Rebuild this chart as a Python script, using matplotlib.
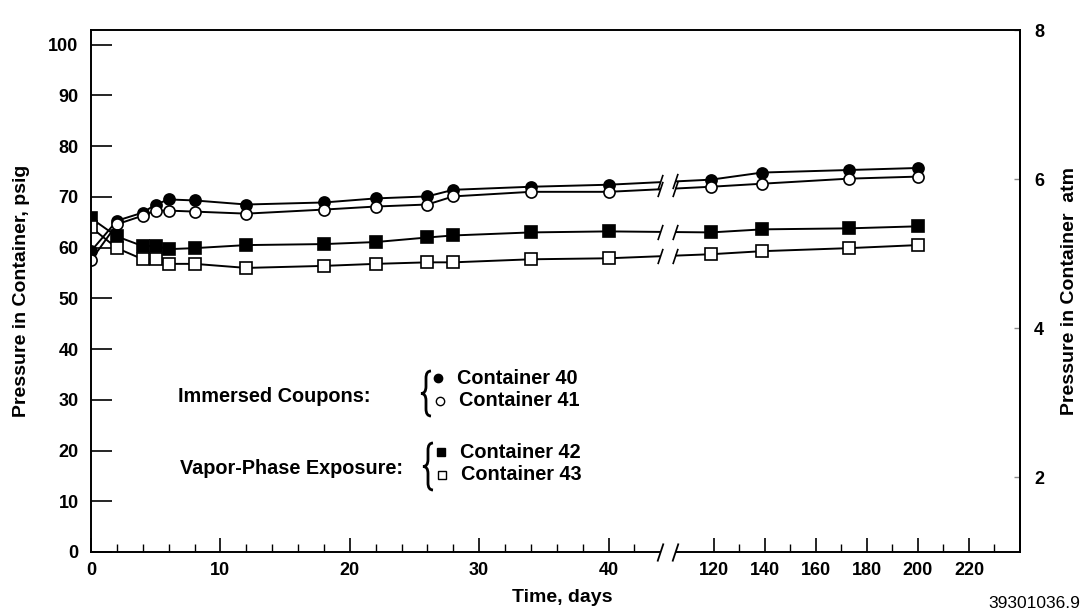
import numpy as np
import matplotlib
matplotlib.use("Agg")
import matplotlib.pyplot as plt
from matplotlib.lines import Line2D
from matplotlib.path import Path
from matplotlib.patches import PathPatch
from matplotlib.ticker import FixedLocator, FixedFormatter

plt.rcParams['font.family'] = ['Liberation Sans', 'DejaVu Sans']

# ---------------- data ----------------
days = [0, 2, 4, 5, 6, 8, 12, 18, 22, 26, 28, 34, 40, 119, 139, 173, 200]
c40 = [59.3, 65.3, 66.9, 68.5, 69.5, 69.3, 68.5, 68.9, 69.7, 70.1, 71.4, 72.0, 72.4, 73.4, 74.8, 75.3, 75.7]
c41 = [57.5, 64.6, 66.3, 67.3, 67.3, 67.1, 66.7, 67.5, 68.1, 68.5, 70.1, 71.0, 71.0, 72.0, 72.6, 73.6, 74.0]
c42 = [65.8, 62.2, 60.3, 60.3, 59.7, 59.9, 60.5, 60.7, 61.1, 62.0, 62.4, 63.0, 63.2, 63.0, 63.6, 63.8, 64.2]
c43 = [64.0, 59.9, 57.7, 57.7, 56.8, 56.8, 56.0, 56.4, 56.8, 57.1, 57.1, 57.7, 57.9, 58.7, 59.3, 59.9, 60.5]

x_major = [0, 10, 20, 30, 40, 120, 140, 160, 180, 200, 220]
x_major_labels = ['0', '10', '20', '30', '40', '120', '140', '160', '180', '200', '220']
x_minor = [2, 4, 6, 8, 12, 14, 16, 18, 22, 24, 26, 28, 32, 34, 36, 38, 42,
           130, 150, 170, 190, 210, 230]
y_left_ticks = [0, 10, 20, 30, 40, 50, 60, 70, 80, 90, 100]
y_right_ticks = [2, 4, 6, 8]

# ---------------- broken x scale ----------------
B1, B2, G, R = 44.0, 105.0, 1.16, 0.1973


def fwd(d):
    d = np.asarray(d, dtype=float)
    return np.where(d <= B1, d,
                    np.where(d >= B2, B1 + G + (d - B2) * R,
                             B1 + (d - B1) * G / (B2 - B1)))


def inv(t):
    t = np.asarray(t, dtype=float)
    return np.where(t <= B1, t,
                    np.where(t >= B1 + G, B2 + (t - B1 - G) / R,
                             B1 + (t - B1) * (B2 - B1) / G))


W, H = 1088, 614
fig = plt.figure(figsize=(W / 100, H / 100), dpi=100)
ax = fig.add_axes([91 / W, 1 - 552 / H, 929 / W, 522 / H])
ax.set_xscale('function', functions=(fwd, inv))
ax.set_xlim(0, 240)
ax.set_ylim(0, 102.9)

series = [
    (c40, 'o', 'black'),
    (c41, 'o', 'white'),
    (c42, 's', 'black'),
    (c43, 's', 'white'),
]
for vals, mk, fc in series:
    ax.plot(days, vals, color='black', lw=1.4, marker=mk, markersize=8,
            markerfacecolor=fc, markeredgecolor='black', markeredgewidth=1.2,
            zorder=2)

# gap of the broken axis
ax.axvspan(B1, B2, ymin=-0.02, ymax=0.92, facecolor='white', edgecolor='none',
           zorder=3, clip_on=False)
slash = [(-1, -3), (1, 3)]
ax.plot([B1, B2], [0, 0], ls='none', marker=slash, markersize=13,
        markeredgecolor='black', markeredgewidth=1.3, zorder=4, clip_on=False)
i40 = days.index(40)
t_a, t_b = float(fwd(40)), float(fwd(119))
for vals, _, _ in series:
    ya, yb = vals[i40], vals[i40 + 1]
    ys = [ya + (yb - ya) * (float(fwd(x)) - t_a) / (t_b - t_a) for x in (B1, B2)]
    ax.plot([B1, B2], ys, ls='none', marker=slash, markersize=11,
            markeredgecolor='black', markeredgewidth=1.2, zorder=4)

# axes styling
for s in ax.spines.values():
    s.set_linewidth(1.4)
ax.xaxis.set_major_locator(FixedLocator(x_major))
ax.xaxis.set_major_formatter(FixedFormatter(x_major_labels))
ax.xaxis.set_minor_locator(FixedLocator(x_minor))
ax.tick_params(axis='x', which='major', direction='in', length=10, width=1.2,
               pad=7, labelsize=13)
ax.tick_params(axis='x', which='minor', direction='in', length=6, width=1.0)
ax.set_yticks(y_left_ticks)
ax.tick_params(axis='y', which='major', direction='in', length=15, width=1.2,
               pad=9, labelsize=13)
for lab in ax.get_xticklabels() + ax.get_yticklabels():
    lab.set_fontweight('bold')

sec = ax.secondary_yaxis('right', functions=(lambda p: p / 14.7 + 1.0,
                                             lambda a: (a - 1.0) * 14.7))
sec.set_yticks(y_right_ticks)
sec.tick_params(direction='in', length=4, width=1.0, color='0.55', pad=10,
                labelsize=13)
sec.spines['right'].set_linewidth(1.4)
for lab in sec.get_yticklabels():
    lab.set_fontweight('bold')


def ftext(x, y, s, **kw):
    fig.text(x / W, 1 - y / H, s, **kw)


ftext(22, 291, 'Pressure in Container, psig', rotation=90, ha='center',
      va='center', fontsize=14, fontweight='bold')
ftext(1070, 291, 'Pressure in Container  atm', rotation=90, ha='center',
      va='center', fontsize=14, fontweight='bold')
ftext(562, 597, 'Time, days', ha='center', va='center', fontsize=14,
      fontweight='bold')
ftext(1080, 604, '39301036.9', ha='right', va='center', fontsize=12.5)

# legend block
ftext(178, 396, 'Immersed Coupons:', ha='left', va='center', fontsize=14.3,
      fontweight='bold')
ftext(180, 468, 'Vapor-Phase Exposure:', ha='left', va='center', fontsize=14.3,
      fontweight='bold')


def brace(xm, yt, yb):
    yc = (yt + yb) / 2
    d, w = 7, 5
    pts = [(xm + w, yt), (xm, yt), (xm, yt + d), (xm, yc - d), (xm, yc),
           (xm - w, yc), (xm, yc), (xm, yc + d), (xm, yb - d), (xm, yb),
           (xm + w, yb)]
    codes = [Path.MOVETO, Path.CURVE3, Path.CURVE3, Path.LINETO, Path.CURVE3,
             Path.CURVE3, Path.CURVE3, Path.CURVE3, Path.LINETO, Path.CURVE3,
             Path.CURVE3]
    verts = [(x / W, 1 - y / H) for x, y in pts]
    fig.add_artist(PathPatch(Path(verts, codes), fill=False, lw=2.0,
                             edgecolor='black', transform=fig.transFigure))


brace(426, 371, 416)
brace(428, 443, 490)

legend_rows = [
    (438, 378, 'o', 'black', 'Container 40'),
    (440, 401, 'o', 'white', 'Container 41'),
    (441, 452, 's', 'black', 'Container 42'),
    (442, 475, 's', 'white', 'Container 43'),
]
for x, y, mk, fc, lab in legend_rows:
    fig.add_artist(Line2D([x / W], [1 - y / H], transform=fig.transFigure,
                          marker=mk, markersize=6, markerfacecolor=fc,
                          markeredgecolor='black', markeredgewidth=1.0,
                          ls='none'))
    ftext(x + 19, y, lab, ha='left', va='center', fontsize=14.3,
          fontweight='bold')

fig.savefig('out.png', dpi=100)
